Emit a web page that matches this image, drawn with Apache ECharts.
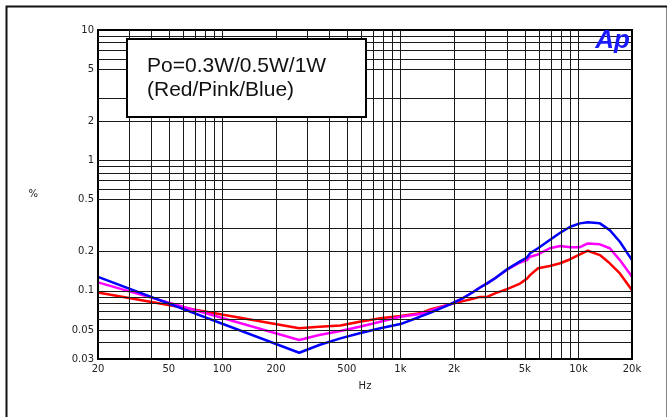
<!DOCTYPE html>
<html>
<head>
<meta charset="utf-8">
<script src="https://cdn.jsdelivr.net/npm/echarts@6/dist/echarts.min.js"></script>
<style>
html,body{margin:0;padding:0;background:#fff;}
#c{width:667px;height:417px;}
</style>
</head>
<body>
<div id="c"></div>
<script>
const freqHz = [20, 270, 350, 460, 590, 770, 1000, 1290, 1470, 1900, 2250, 2550, 2800, 3070, 3400, 3970, 4700, 5140, 5350, 5930, 6900, 7900, 9000, 10200, 11300, 13200, 15000, 17100, 20000];
const redPct  = [0.097, 0.0516, 0.053, 0.0542, 0.058, 0.0615, 0.064, 0.0672, 0.0721, 0.0788, 0.0834, 0.087, 0.0898, 0.0898, 0.0955, 0.103, 0.1136, 0.124, 0.132, 0.149, 0.155, 0.1626, 0.1747, 0.1906, 0.203, 0.188, 0.1626, 0.136, 0.101];
const pinkPct = [0.116, 0.042, 0.0458, 0.0492, 0.053, 0.058, 0.0633, 0.0664, 0.0704, 0.0788, 0.088, 0.0975, 0.106, 0.114, 0.125, 0.145, 0.165, 0.172, 0.1826, 0.19, 0.212, 0.2207, 0.2157, 0.216, 0.231, 0.2274, 0.212, 0.172, 0.128];
const bluePct = [0.128, 0.0335, 0.0384, 0.0432, 0.0472, 0.0516, 0.0556, 0.0633, 0.0679, 0.0788, 0.088, 0.0975, 0.106, 0.114, 0.125, 0.146, 0.168, 0.18, 0.194, 0.212, 0.245, 0.279, 0.310, 0.329, 0.335, 0.329, 0.292, 0.238, 0.172];

const xTickValues = [20, 50, 100, 200, 500, 1000, 2000, 5000, 10000, 20000];
const xTickLabels = ['20', '50', '100', '200', '500', '1k', '2k', '5k', '10k', '20k'];
const yTickValues = [0.03, 0.05, 0.1, 0.2, 0.5, 1, 2, 5, 10];
const yTickLabels = ['0.03', '0.05', '0.1', '0.2', '0.5', '1', '2', '5', '10'];
const xGridValues = [30, 40, 50, 60, 70, 80, 90, 100, 200, 300, 400, 500, 600, 700, 800, 900, 1000, 2000, 3000, 4000, 5000, 6000, 7000, 8000, 9000, 10000];
const yGridValues = [9, 8, 7, 6, 5, 3, 2, 1, 0.9, 0.8, 0.7, 0.6, 0.5, 0.3, 0.2, 0.1, 0.09, 0.08, 0.07, 0.06, 0.05, 0.04];

function pairs(vals) { return freqHz.map((f, i) => [f, vals[i]]); }
function lookup(values, labels, v) {
  let best = 0, bd = Infinity;
  values.forEach((t, i) => { const d = Math.abs(Math.log(t) - Math.log(v)); if (d < bd) { bd = d; best = i; } });
  return labels[best];
}

const font = 'DejaVu Sans';
const chart = echarts.init(document.getElementById('c'), null, {renderer: 'canvas'});
const gridLines = [].concat(
  xGridValues.map(v => ({xAxis: v})),
  yGridValues.map(v => ({yAxis: v}))
);

chart.setOption({
  animation: false,
  backgroundColor: '#fff',
  grid: {left: 98, right: 35, top: 30, bottom: 58, show: true, borderColor: '#000', borderWidth: 2, backgroundColor: 'transparent', z: 5},
  xAxis: {
    type: 'log', logBase: 10, min: 20, max: 20000,
    name: 'Hz', nameLocation: 'middle', nameGap: 22,
    nameTextStyle: {fontFamily: font, fontSize: 10, color: '#222'},
    axisLine: {show: false}, axisTick: {show: false}, splitLine: {show: false}, minorSplitLine: {show: false},
    axisLabel: {customValues: xTickValues, margin: 5, fontFamily: font, fontSize: 10, color: '#222',
      formatter: v => lookup(xTickValues, xTickLabels, v)}
  },
  yAxis: {
    type: 'log', logBase: 10, min: 0.03, max: 10,
    name: '%', nameLocation: 'middle', nameGap: 60, nameRotate: 0,
    nameTextStyle: {fontFamily: font, fontSize: 10, color: '#222'},
    axisLine: {show: false}, axisTick: {show: false}, splitLine: {show: false},
    axisLabel: {customValues: yTickValues, margin: 4, fontFamily: font, fontSize: 10, color: '#222',
      formatter: v => lookup(yTickValues, yTickLabels, v)}
  },
  series: [
    {type: 'line', data: [], silent: true, z: 1,
      markLine: {silent: true, symbol: 'none', animation: false, label: {show: false},
        lineStyle: {color: '#1a1a1a', width: 1, type: 'solid'}, emphasis: {disabled: true}, data: gridLines}},
    {name: 'Red', type: 'line', data: pairs(redPct), showSymbol: false, smooth: false, z: 3,
      lineStyle: {color: '#ff0000', width: 2.5}, itemStyle: {color: '#ff0000'}},
    {name: 'Pink', type: 'line', data: pairs(pinkPct), showSymbol: false, smooth: false, z: 3,
      lineStyle: {color: '#ff00ff', width: 2.5}, itemStyle: {color: '#ff00ff'}},
    {name: 'Blue', type: 'line', data: pairs(bluePct), showSymbol: false, smooth: false, z: 3,
      lineStyle: {color: '#0000ff', width: 2.5}, itemStyle: {color: '#0000ff'}}
  ],
  graphic: [
    {type: 'rect', left: 4, top: 4, shape: {width: 661, height: 440}, z: 100,
      style: {fill: 'none', stroke: '#111', lineWidth: 2}},
    {type: 'rect', left: 126, top: 38, shape: {width: 239, height: 78}, z: 50,
      style: {fill: '#fff', stroke: '#000', lineWidth: 2}},
    {type: 'text', left: 147, top: 56, z: 51,
      style: {text: 'Po=0.3W/0.5W/1W', font: '21px "Liberation Sans", Arial, sans-serif', fill: '#111'}},
    {type: 'text', left: 147, top: 80, z: 51,
      style: {text: '(Red/Pink/Blue)', font: '21px "Liberation Sans", Arial, sans-serif', fill: '#111'}},
    {type: 'text', right: 37, top: 28, z: 51,
      style: {text: 'Ap', font: 'italic bold 26px "Liberation Sans", Arial, sans-serif', fill: '#1a1aff'}}
  ]
});
</script>
</body>
</html>
